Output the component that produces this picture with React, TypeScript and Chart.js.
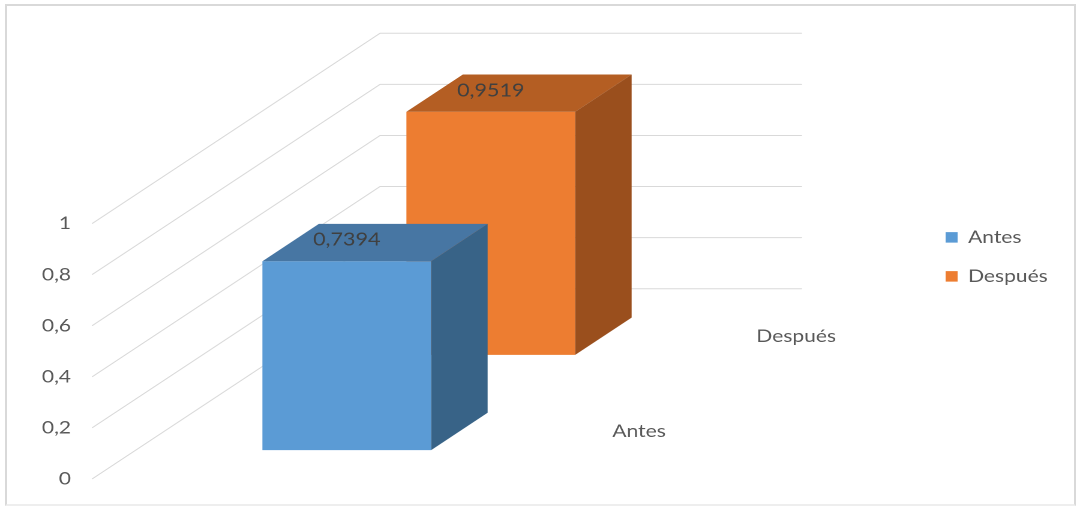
import React, { useEffect, useRef } from 'react';
import { Chart, registerables } from 'chart.js';

Chart.register(...registerables);

// ---------- data ----------
const categories = [''];
const seriesNames = ['Antes', 'Después'];
const seriesValues = [0.7394, 0.9519];
const yTickMax = 1;
const yTickStep = 0.2;

// ---------- styles ----------
const frontColors = ['#5B9BD5', '#ED7D31'];
const topColors = ['#4776A3', '#B45E23'];
const sideColors = ['#386387', '#9A4F1D'];
const gridColor = '#d9d9d9';
const textColor = '#595959';
const labelColor = '#404040';
const FONT = 'Lato';
const LEGEND_FONT_SIZE = 17.5;
const LEGEND_PADDING = 21.5;
const LEGEND_BOX_W = 10;

// the picture is horizontally stretched; the canvas is drawn in logical px
const STRETCH = 1.2;
const W = 898;
const H = 507;
const LEGEND_LEFT = 766.5; // logical x of the legend block

// oblique projection of the depth axis (logical px)
const DEPTH_X = 240;
const DEPTH_Y = 190.3;
const BAR_DEPTH = 0.196; // fraction of total depth occupied by one bar
const Y_MAX = 1.7434; // room for the back wall above the front plane
const PLOT_LEFT = 76.7;
const PLOT_RIGHT = 428.3;

const fmt = (v: number, d: number) => {
  const s = d >= 0 ? v.toFixed(d) : String(Math.round(v * 10) / 10);
  return s.replace('.', ',');
};

const threeD = {
  id: 'threeD',
  beforeDatasetsDraw(chart: any) {
    const { ctx, chartArea, scales } = chart;
    const y = scales.y;
    ctx.save();
    ctx.strokeStyle = gridColor;
    ctx.lineWidth = 1;
    y.ticks.forEach((t: any) => {
      const py = y.getPixelForValue(t.value);
      ctx.beginPath();
      ctx.moveTo(chartArea.left, py);
      ctx.lineTo(chartArea.left + DEPTH_X, py - DEPTH_Y);
      ctx.lineTo(chartArea.right + DEPTH_X, py - DEPTH_Y);
      ctx.stroke();
    });
    ctx.restore();
  },
  beforeDatasetDraw() {
    return false;
  },
  afterDatasetsDraw(chart: any) {
    const { ctx, chartArea, scales } = chart;
    const n = chart.data.datasets.length;
    const dx = BAR_DEPTH * DEPTH_X;
    const dy = BAR_DEPTH * DEPTH_Y;
    const poly = (pts: number[][], color: string) => {
      ctx.beginPath();
      ctx.moveTo(pts[0][0], pts[0][1]);
      for (let k = 1; k < pts.length; k++) ctx.lineTo(pts[k][0], pts[k][1]);
      ctx.closePath();
      ctx.fillStyle = color;
      ctx.fill();
    };
    const labels: any[] = [];
    ctx.save();
    for (let i = n - 1; i >= 0; i--) {
      const meta = chart.getDatasetMeta(i);
      meta.data.forEach((el: any, j: number) => {
        const { x, y, base, width } = el.getProps(['x', 'y', 'base', 'width'], true);
        const f0 = (i + 0.5) / n - BAR_DEPTH / 2;
        const ox = f0 * DEPTH_X;
        const oy = f0 * DEPTH_Y;
        const xl = x - width / 2 + ox;
        const xr = x + width / 2 + ox;
        const yt = y - oy;
        const yb = base - oy;
        poly([[xl, yt], [xr, yt], [xr, yb], [xl, yb]], frontColors[i]);
        poly([[xl, yt], [xl + dx, yt - dy], [xr + dx, yt - dy], [xr, yt]], topColors[i]);
        poly([[xr, yt], [xr + dx, yt - dy], [xr + dx, yb - dy], [xr, yb]], sideColors[i]);
        labels.push({ x: (xl + xr) / 2, y: yt - 21.3, text: fmt(chart.data.datasets[i].data[j], 4) });
      });
    }
    ctx.fillStyle = labelColor;
    ctx.font = `18px ${FONT}`;
    ctx.textAlign = 'center';
    ctx.textBaseline = 'middle';
    labels.forEach((l) => ctx.fillText(l.text, l.x, l.y));

    // depth (series) axis labels
    const y0 = scales.y.getPixelForValue(0);
    ctx.fillStyle = textColor;
    ctx.font = `17.5px ${FONT}`;
    ctx.textAlign = 'left';
    for (let i = 0; i < n; i++) {
      const fc = (i + 0.5) / n;
      ctx.fillText(
        chart.data.datasets[i].label,
        chartArea.right + fc * DEPTH_X + 22,
        y0 - fc * DEPTH_Y
      );
    }
    ctx.restore();
  },
};

export default function App() {
  const ref = useRef<HTMLCanvasElement>(null);

  useEffect(() => {
    if (!ref.current) return;
    // measure the legend so that its block starts at LEGEND_LEFT
    const mctx = document.createElement('canvas').getContext('2d') as CanvasRenderingContext2D;
    mctx.font = `${LEGEND_FONT_SIZE}px ${FONT}`;
    const textW = Math.max(...seriesNames.map((s) => mctx.measureText(s).width));
    const legendW = LEGEND_PADDING + LEGEND_BOX_W + LEGEND_FONT_SIZE / 2 + textW + 10;
    const padRight = Math.max(0, W - LEGEND_LEFT - legendW);

    const chart = new Chart(ref.current, {
      type: 'bar',
      data: {
        labels: categories,
        datasets: seriesNames.map((name, i) => ({
          label: name,
          data: [seriesValues[i]],
          backgroundColor: frontColors[i],
          borderWidth: 0,
          grouped: false,
          barPercentage: 0.4,
          categoryPercentage: 1,
          yAxisID: 'y',
        })),
      },
      options: {
        responsive: false,
        animation: false,
        devicePixelRatio: 2,
        layout: { padding: { left: 0, right: padRight, top: 33.7, bottom: 27 } },
        plugins: {
          tooltip: { enabled: false },
          legend: {
            position: 'right',
            maxWidth: legendW + 20,
            labels: {
              boxWidth: LEGEND_BOX_W,
              boxHeight: 10.5,
              padding: LEGEND_PADDING,
              color: textColor,
              font: { family: FONT, size: LEGEND_FONT_SIZE },
            },
          },
        },
        scales: {
          x: { display: false, offset: true, grid: { display: false } },
          y: {
            type: 'linear',
            position: 'left',
            min: 0,
            max: Y_MAX,
            grid: { display: false, drawTicks: false },
            border: { display: false },
            ticks: {
              stepSize: yTickStep,
              padding: 17.5,
              color: textColor,
              font: { family: FONT, size: 17.5 },
              callback: (v: any) => fmt(Number(v), -1),
            },
            afterBuildTicks: (s: any) => {
              s.ticks = s.ticks.filter((t: any) => t.value <= yTickMax + 1e-9);
            },
            afterFit: (s: any) => {
              s.width = PLOT_LEFT;
            },
          },
          y2: {
            type: 'linear',
            position: 'right',
            display: true,
            grid: { display: false, drawTicks: false },
            border: { display: false },
            ticks: { display: false },
            afterFit: (s: any) => {
              const lw = s.chart.legend ? s.chart.legend.width : legendW;
              s.width = W - padRight - lw - PLOT_RIGHT;
            },
          },
        },
      } as any,
      plugins: [threeD],
    });
    return () => chart.destroy();
  }, []);

  return (
    <div style={{ position: 'absolute', left: 0, top: 0, width: 1077, height: 507, background: '#fff', overflow: 'hidden' }}>
      <div style={{ position: 'absolute', left: 0, top: 0, transform: `scaleX(${STRETCH})`, transformOrigin: '0 0' }}>
        <canvas ref={ref} width={W} height={H} style={{ width: `${W}px`, height: `${H}px`, display: 'block' }} />
      </div>
      <div
        style={{
          position: 'absolute',
          left: 5,
          top: 4,
          width: 1071,
          height: 502,
          boxSizing: 'border-box',
          border: '2px solid #d9d9d9',
          borderBottomColor: '#eeeeee',
          pointerEvents: 'none',
        }}
      />
    </div>
  );
}
